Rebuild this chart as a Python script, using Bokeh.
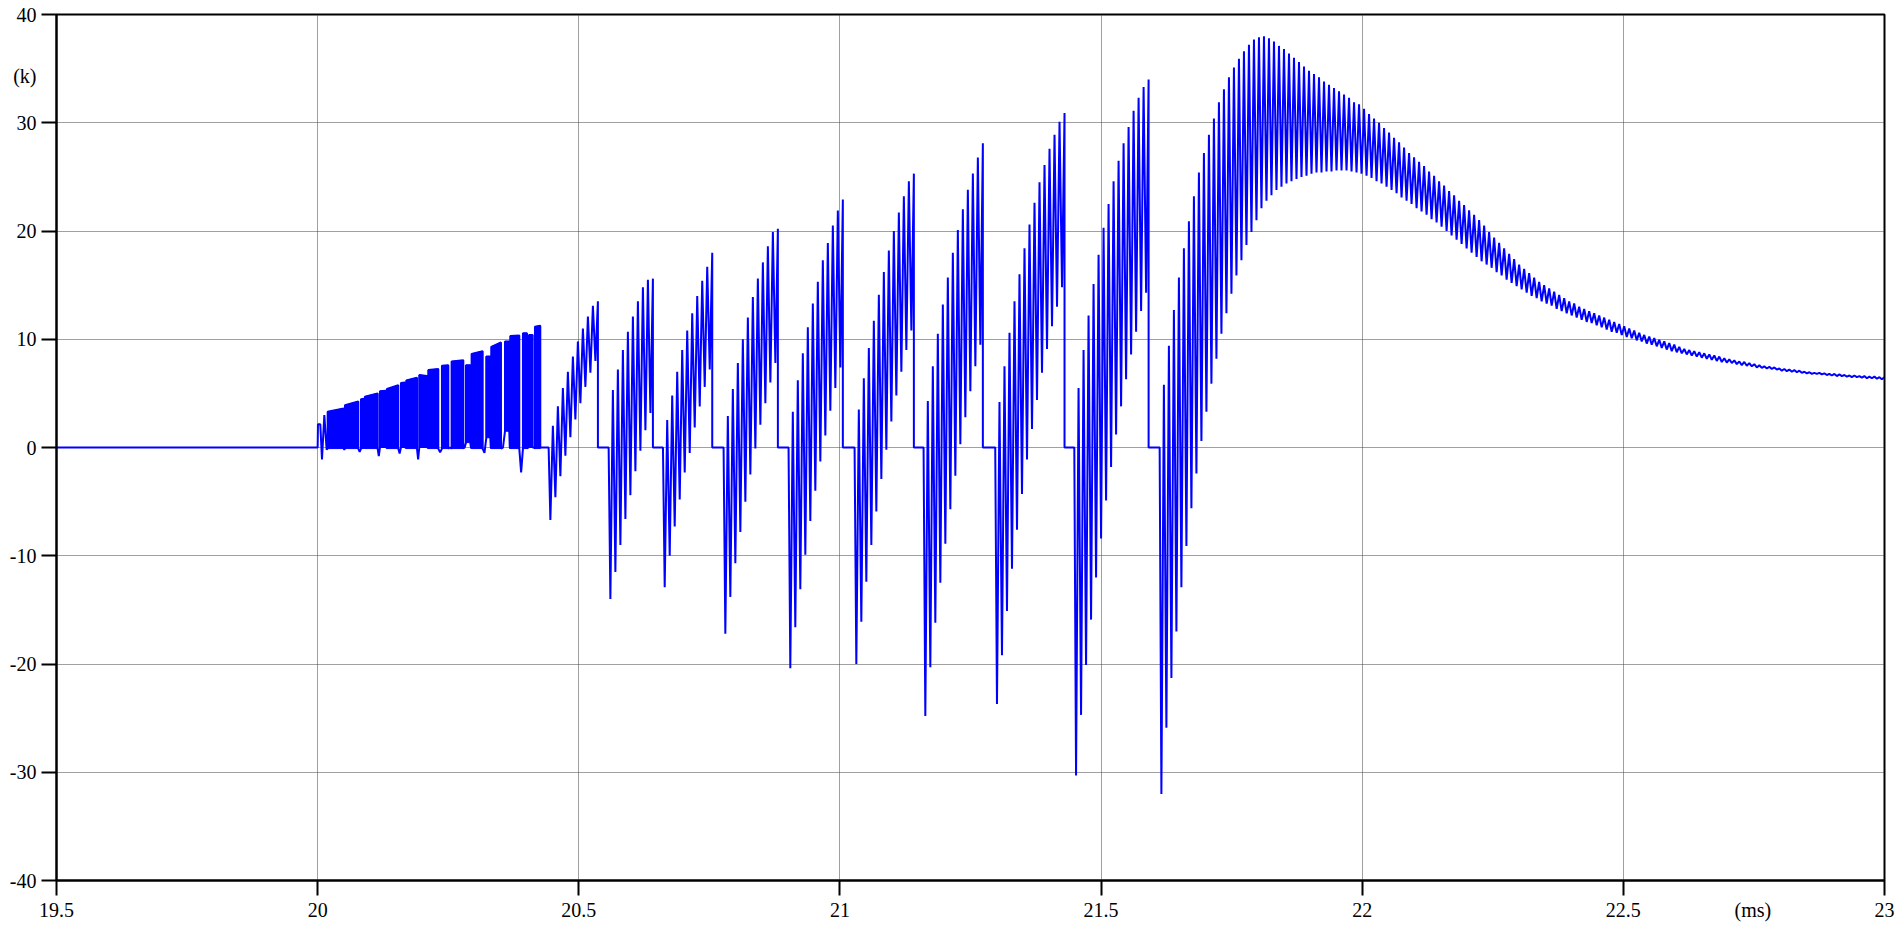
from bokeh.plotting import figure
from bokeh.models import Range1d, FixedTicker, CustomJSTickFormatter, LinearAxis
from bokeh.embed import file_html
from bokeh.resources import INLINE

# ---------------- data (time in ms, value in k) ----------------
x_ticks = [19.5, 20, 20.5, 21, 21.5, 22, 22.5, 23]
y_ticks = [-40, -30, -20, -10, 0, 10, 20, 30, 40]
x_unit_text, x_unit_pos = "(ms)", 22.748
y_unit_text, y_unit_pos = "(k)", 34.3

T = 0.00958  # spacing of the spikes (ms)

# start-up wiggle at 20 ms
a_pre_t = [19.5, 20.0, 20.0006, 20.0051, 20.0083, 20.0128, 20.0172]
a_pre_v = [0.0, 0.0, 2.15, 2.15, -1.1, 3.0, -0.2]

# dense blocks 20.0 .. 20.43 ms
a_t0 = [20.0192, 20.0523, 20.0830, 20.0906, 20.1193, 20.1327, 20.1595, 20.1698,
        20.1946, 20.2119, 20.2380, 20.2565, 20.2840, 20.2948, 20.3229, 20.3325,
        20.3587, 20.3689, 20.3931, 20.4046, 20.4161]
a_t1 = [20.0498, 20.0779, 20.0881, 20.1149, 20.1308, 20.1544, 20.1672, 20.1902,
        20.2093, 20.2310, 20.2502, 20.2789, 20.2923, 20.3159, 20.3306, 20.3510,
        20.3669, 20.3861, 20.4008, 20.4116, 20.4263]
a_top0 = [3.3, 3.9, 4.45, 4.7, 5.2, 5.4, 5.95, 6.2, 6.7, 7.15, 7.55, 7.95, 7.6,
          8.65, 8.4, 9.3, 9.8, 10.3, 10.55, 10.4, 11.15]
a_top1 = [3.6, 4.25, 4.5, 5.0, 5.25, 5.75, 6.0, 6.45, 6.6, 7.25, 7.6, 8.05, 7.6,
          8.9, 8.4, 9.7, 9.8, 10.35, 10.55, 10.4, 11.25]
a_bot = [-0.1, -0.1, -0.1, -0.1, 0.0, -0.1, 0.0, -0.1, 0.0, -0.1, -0.1, -0.1,
         0.45, -0.1, 0.9, -0.1, 1.5, -0.1, -0.1, 0.0, -0.1]
a_dip = [-0.2, -0.4, 0.0, -0.8, 0.0, -0.55, 0.0, -1.1, 0.0, -0.45, 0.0, 0.0,
         0.0, -0.5, 0.0, 0.0, 0.0, -2.3, 0.0, 0.0, 0.0]

# bursts 20.44 .. 21.59 ms : start time, successive lows, successive highs
b1_t0 = 20.4456
b1_lows = [-6.7, -4.6, -2.65, -0.75, 0.95, 2.6, 4.1, 5.6, 6.9, 8.0]
b1_highs = [2.0, 3.8, 5.5, 7.0, 8.4, 9.8, 11.0, 12.1, 13.1, 13.5]
b2_t0 = 20.5605
b2_lows = [-14.0, -11.5, -9.0, -6.6, -4.4, -2.2, -0.3, 1.6, 3.2]
b2_highs = [5.3, 7.2, 9.0, 10.7, 12.1, 13.5, 14.8, 15.5, 15.6]
b3_t0 = 20.6645
b3_lows = [-12.9, -10.0, -7.3, -4.8, -2.3, -0.5, 1.85, 3.8, 5.6, 7.2]
b3_highs = [2.55, 4.8, 7.0, 9.0, 10.8, 12.4, 14.0, 15.4, 16.7, 18.0]
b4_t0 = 20.7806
b4_lows = [-17.2, -13.8, -10.7, -7.8, -5.0, -2.5, -0.1, 2.1, 4.1, 6.0, 7.8]
b4_highs = [2.9, 5.4, 7.8, 10.0, 12.0, 13.9, 15.6, 17.1, 18.6, 19.9, 20.2]
b5_t0 = 20.9050
b5_lows = [-20.4, -16.6, -13.1, -9.9, -6.8, -4.0, -1.3, 1.1, 3.4, 5.5, 7.4]
b5_highs = [3.3, 6.2, 8.7, 11.1, 13.3, 15.3, 17.3, 18.9, 20.5, 21.9, 22.9]
b6_t0 = 21.0314
b6_lows = [-20.0, -16.1, -12.4, -9.0, -5.9, -2.9, -0.2, 2.4, 4.8, 7.0, 9.0, 10.8]
b6_highs = [3.5, 6.4, 9.2, 11.7, 14.1, 16.2, 18.2, 20.0, 21.7, 23.2, 24.6, 25.3]
b7_t0 = 21.1635
b7_lows = [-24.8, -20.3, -16.2, -12.5, -8.9, -5.7, -2.6, 0.3, 2.8, 5.2, 7.5, 9.5]
b7_highs = [4.3, 7.5, 10.5, 13.2, 15.7, 18.0, 20.1, 22.0, 23.8, 25.3, 26.8, 28.1]
b8_t0 = 21.3007
b8_lows = [-23.7, -19.2, -15.1, -11.2, -7.6, -4.3, -1.1, 1.7, 4.4, 6.9, 9.1, 11.2, 13.0, 14.8]
b8_highs = [4.2, 7.5, 10.6, 13.5, 16.0, 18.4, 20.6, 22.6, 24.5, 26.1, 27.6, 28.9, 30.1, 30.9]
b9_t0 = 21.4521
b9_lows = [-30.3, -24.7, -20.1, -15.9, -12.0, -8.4, -4.9, -1.8, 1.2, 3.8, 6.3, 8.6,
           10.7, 12.6, 14.3]
b9_highs = [5.5, 9.0, 12.2, 15.1, 17.8, 20.3, 22.5, 24.6, 26.5, 28.1, 29.6, 31.1,
            32.3, 33.3, 34.0]

# continuous oscillation 21.62 .. 23 ms
c_t0 = 21.6155
c_lows = [-32.0, -25.9, -21.3, -17.0, -12.9, -9.1, -5.6, -2.4, 0.6, 3.3,
          5.9, 8.2, 10.5, 12.4, 14.2, 15.9, 17.3, 18.7, 19.9, 21.0,
          22.1, 22.8, 23.3, 23.8, 24.1, 24.4, 24.6, 24.8, 25.0, 25.1,
          25.3, 25.4, 25.4, 25.5, 25.5, 25.6, 25.6, 25.6,
          25.5, 25.4, 25.3, 25.1, 24.9, 24.6, 24.4, 24.1, 23.8, 23.5,
          23.1, 22.8, 22.5, 22.1, 21.8, 21.5, 21.1, 20.8, 20.4, 20.0,
          19.6, 19.2, 18.8, 18.4, 18.0, 17.6, 17.2, 16.9, 16.6, 16.2,
          15.9, 15.5, 15.2, 14.9, 14.6, 14.3, 14.0, 13.8, 13.5, 13.3,
          13.1, 12.8, 12.6, 12.4, 12.2, 12.0, 11.8, 11.6, 11.5, 11.3,
          11.1, 10.9, 10.7, 10.6, 10.4, 10.2, 10.1, 9.9, 9.8, 9.6,
          9.5, 9.35, 9.2, 9.05, 8.9, 8.8, 8.7, 8.6, 8.5, 8.4,
          8.3, 8.2, 8.1, 8.0, 7.9, 7.85, 7.8, 7.7, 7.6, 7.55,
          7.5, 7.4, 7.35, 7.3, 7.25, 7.2, 7.1, 7.05, 7.0, 6.95,
          6.9, 6.85, 6.8, 6.8, 6.75, 6.7, 6.65, 6.6, 6.6, 6.55,
          6.5, 6.5, 6.45, 6.4, 6.4, 6.35, 6.3]
c_highs = [5.8, 9.4, 12.7, 15.7, 18.4, 20.9, 23.2, 25.4, 27.2, 28.9, 30.4, 31.9,
           33.1, 34.2, 35.1, 35.9, 36.6, 37.2, 37.7, 37.9, 38.0,
           37.8, 37.5, 37.1, 36.8, 36.4, 36.0, 35.6, 35.2, 34.8, 34.5,
           34.2, 33.8, 33.5, 33.2, 32.9, 32.6, 32.3, 31.9, 31.7, 31.3,
           30.8, 30.4, 30.0, 29.5, 29.1, 28.6, 28.2, 27.7, 27.2, 26.8,
           26.4, 26.0, 25.5, 25.1, 24.6, 24.2, 23.7, 23.3, 22.8, 22.4,
           21.9, 21.5, 21.0, 20.5,
           19.9, 19.4, 18.9, 18.4, 17.9, 17.4, 16.9, 16.5, 16.1, 15.7,
           15.3, 15.0, 14.7, 14.4, 14.1, 13.8, 13.5, 13.3, 13.0, 12.8,
           12.6, 12.4, 12.2, 12.0, 11.8, 11.6, 11.4, 11.2, 11.0, 10.8,
           10.6, 10.4, 10.25, 10.1, 9.95, 9.8, 9.65, 9.5, 9.3, 9.1,
           9.0, 8.9, 8.8, 8.7, 8.6, 8.5, 8.4, 8.25, 8.15, 8.05,
           7.95, 7.9, 7.8, 7.7, 7.6, 7.5, 7.45, 7.4, 7.3, 7.25,
           7.2, 7.15, 7.1, 7.0, 6.95, 6.9, 6.9, 6.85, 6.8, 6.8,
           6.75, 6.7, 6.65, 6.65, 6.6, 6.6, 6.55, 6.55, 6.5, 6.5]

# ---------------- build the trace ----------------
xs = list(a_pre_t)
ys = list(a_pre_v)
for i in range(len(a_t0)):
    xs += [a_t0[i], a_t0[i], a_t1[i], a_t1[i]]
    ys += [a_bot[i], a_top0[i], a_top1[i], a_bot[i]]
    if i + 1 < len(a_t0):
        xs.append((a_t1[i] + a_t0[i + 1]) / 2)
        ys.append(a_dip[i])
xs.append(a_t1[-1])
ys.append(0.0)

bursts = [(b1_t0, b1_lows, b1_highs), (b2_t0, b2_lows, b2_highs),
          (b3_t0, b3_lows, b3_highs), (b4_t0, b4_lows, b4_highs),
          (b5_t0, b5_lows, b5_highs), (b6_t0, b6_lows, b6_highs),
          (b7_t0, b7_lows, b7_highs), (b8_t0, b8_lows, b8_highs),
          (b9_t0, b9_lows, b9_highs)]
for t0, lows, highs in bursts:
    xs.append(t0 - 0.35 * T)
    ys.append(0.0)
    for k, (lo, hi) in enumerate(zip(lows, highs)):
        xs += [t0 + k * T, t0 + (k + 0.5) * T]
        ys += [lo, hi]
    xs.append(xs[-1])
    ys.append(0.0)

xs.append(c_t0 - 0.35 * T)
ys.append(0.0)
for k, (lo, hi) in enumerate(zip(c_lows, c_highs)):
    xs += [c_t0 + k * T, c_t0 + (k + 0.5) * T]
    ys += [lo, hi]

# ---------------- figure ----------------
SERIF = "'Liberation Serif', 'DejaVu Serif'"

p = figure(frame_width=1828, frame_height=866,
           x_range=Range1d(19.5, 23), y_range=Range1d(-40, 40),
           output_backend="svg", toolbar_location=None,
           min_border_left=56, min_border_top=14, min_border_right=16, min_border_bottom=53,
           background_fill_color="white", border_fill_color="white")
p.styles = {"outline": "1px solid #808080", "outline-offset": "-2px"}

p.outline_line_color = "black"
p.outline_line_width = 2

# inner axes: axis line + tick marks only
p.xaxis.ticker = FixedTicker(ticks=x_ticks)
p.yaxis.ticker = FixedTicker(ticks=y_ticks)
p.xgrid.ticker = FixedTicker(ticks=x_ticks)
p.ygrid.ticker = FixedTicker(ticks=y_ticks)
for ax in (p.xaxis[0], p.yaxis[0]):
    ax.axis_line_color = "black"
    ax.axis_line_width = 2
    ax.major_tick_line_color = "black"
    ax.major_tick_line_width = 2
    ax.major_tick_in = 0
    ax.major_tick_out = 15
    ax.minor_tick_line_color = None
    ax.major_label_standoff = 0
    ax.major_label_text_font_size = "1px"
    ax.major_label_text_alpha = 0
    ax.formatter = CustomJSTickFormatter(code="return '';")

# outer axes: the labels (tick values plus the unit texts)
lab_code = ("if (Math.abs(tick - UPOS) < 1e-6) { return UTXT; } "
            "return tick.toString();")
xlab = LinearAxis(ticker=FixedTicker(ticks=x_ticks + [x_unit_pos]),
                  formatter=CustomJSTickFormatter(
                      args=dict(UPOS=x_unit_pos, UTXT=x_unit_text), code=lab_code))
ylab = LinearAxis(ticker=FixedTicker(ticks=y_ticks + [y_unit_pos]),
                  formatter=CustomJSTickFormatter(
                      args=dict(UPOS=y_unit_pos, UTXT=y_unit_text), code=lab_code))
for ax in (xlab, ylab):
    ax.axis_line_color = None
    ax.major_tick_line_color = None
    ax.minor_tick_line_color = None
    ax.major_tick_in = 0
    ax.major_tick_out = 0
    ax.major_label_text_font = SERIF
    ax.major_label_text_font_size = "20px"
    ax.major_label_text_color = "black"
xlab.major_label_standoff = 3
ylab.major_label_standoff = 5
p.add_layout(xlab, "below")
p.add_layout(ylab, "left")

for g in (p.xgrid[0], p.ygrid[0]):
    g.grid_line_color = "#404040"
    g.grid_line_dash = "1 1"
    g.grid_line_width = 1

p.patches([[a_t0[i], a_t0[i], a_t1[i], a_t1[i]] for i in range(len(a_t0))],
          [[a_bot[i], a_top0[i], a_top1[i], a_bot[i]] for i in range(len(a_t0))],
          fill_color="#0000ff", line_color="#0000ff", line_width=1)
p.line(xs, ys, line_color="#0000ff", line_width=2)

open("out.html", "w").write(file_html(p, INLINE))
